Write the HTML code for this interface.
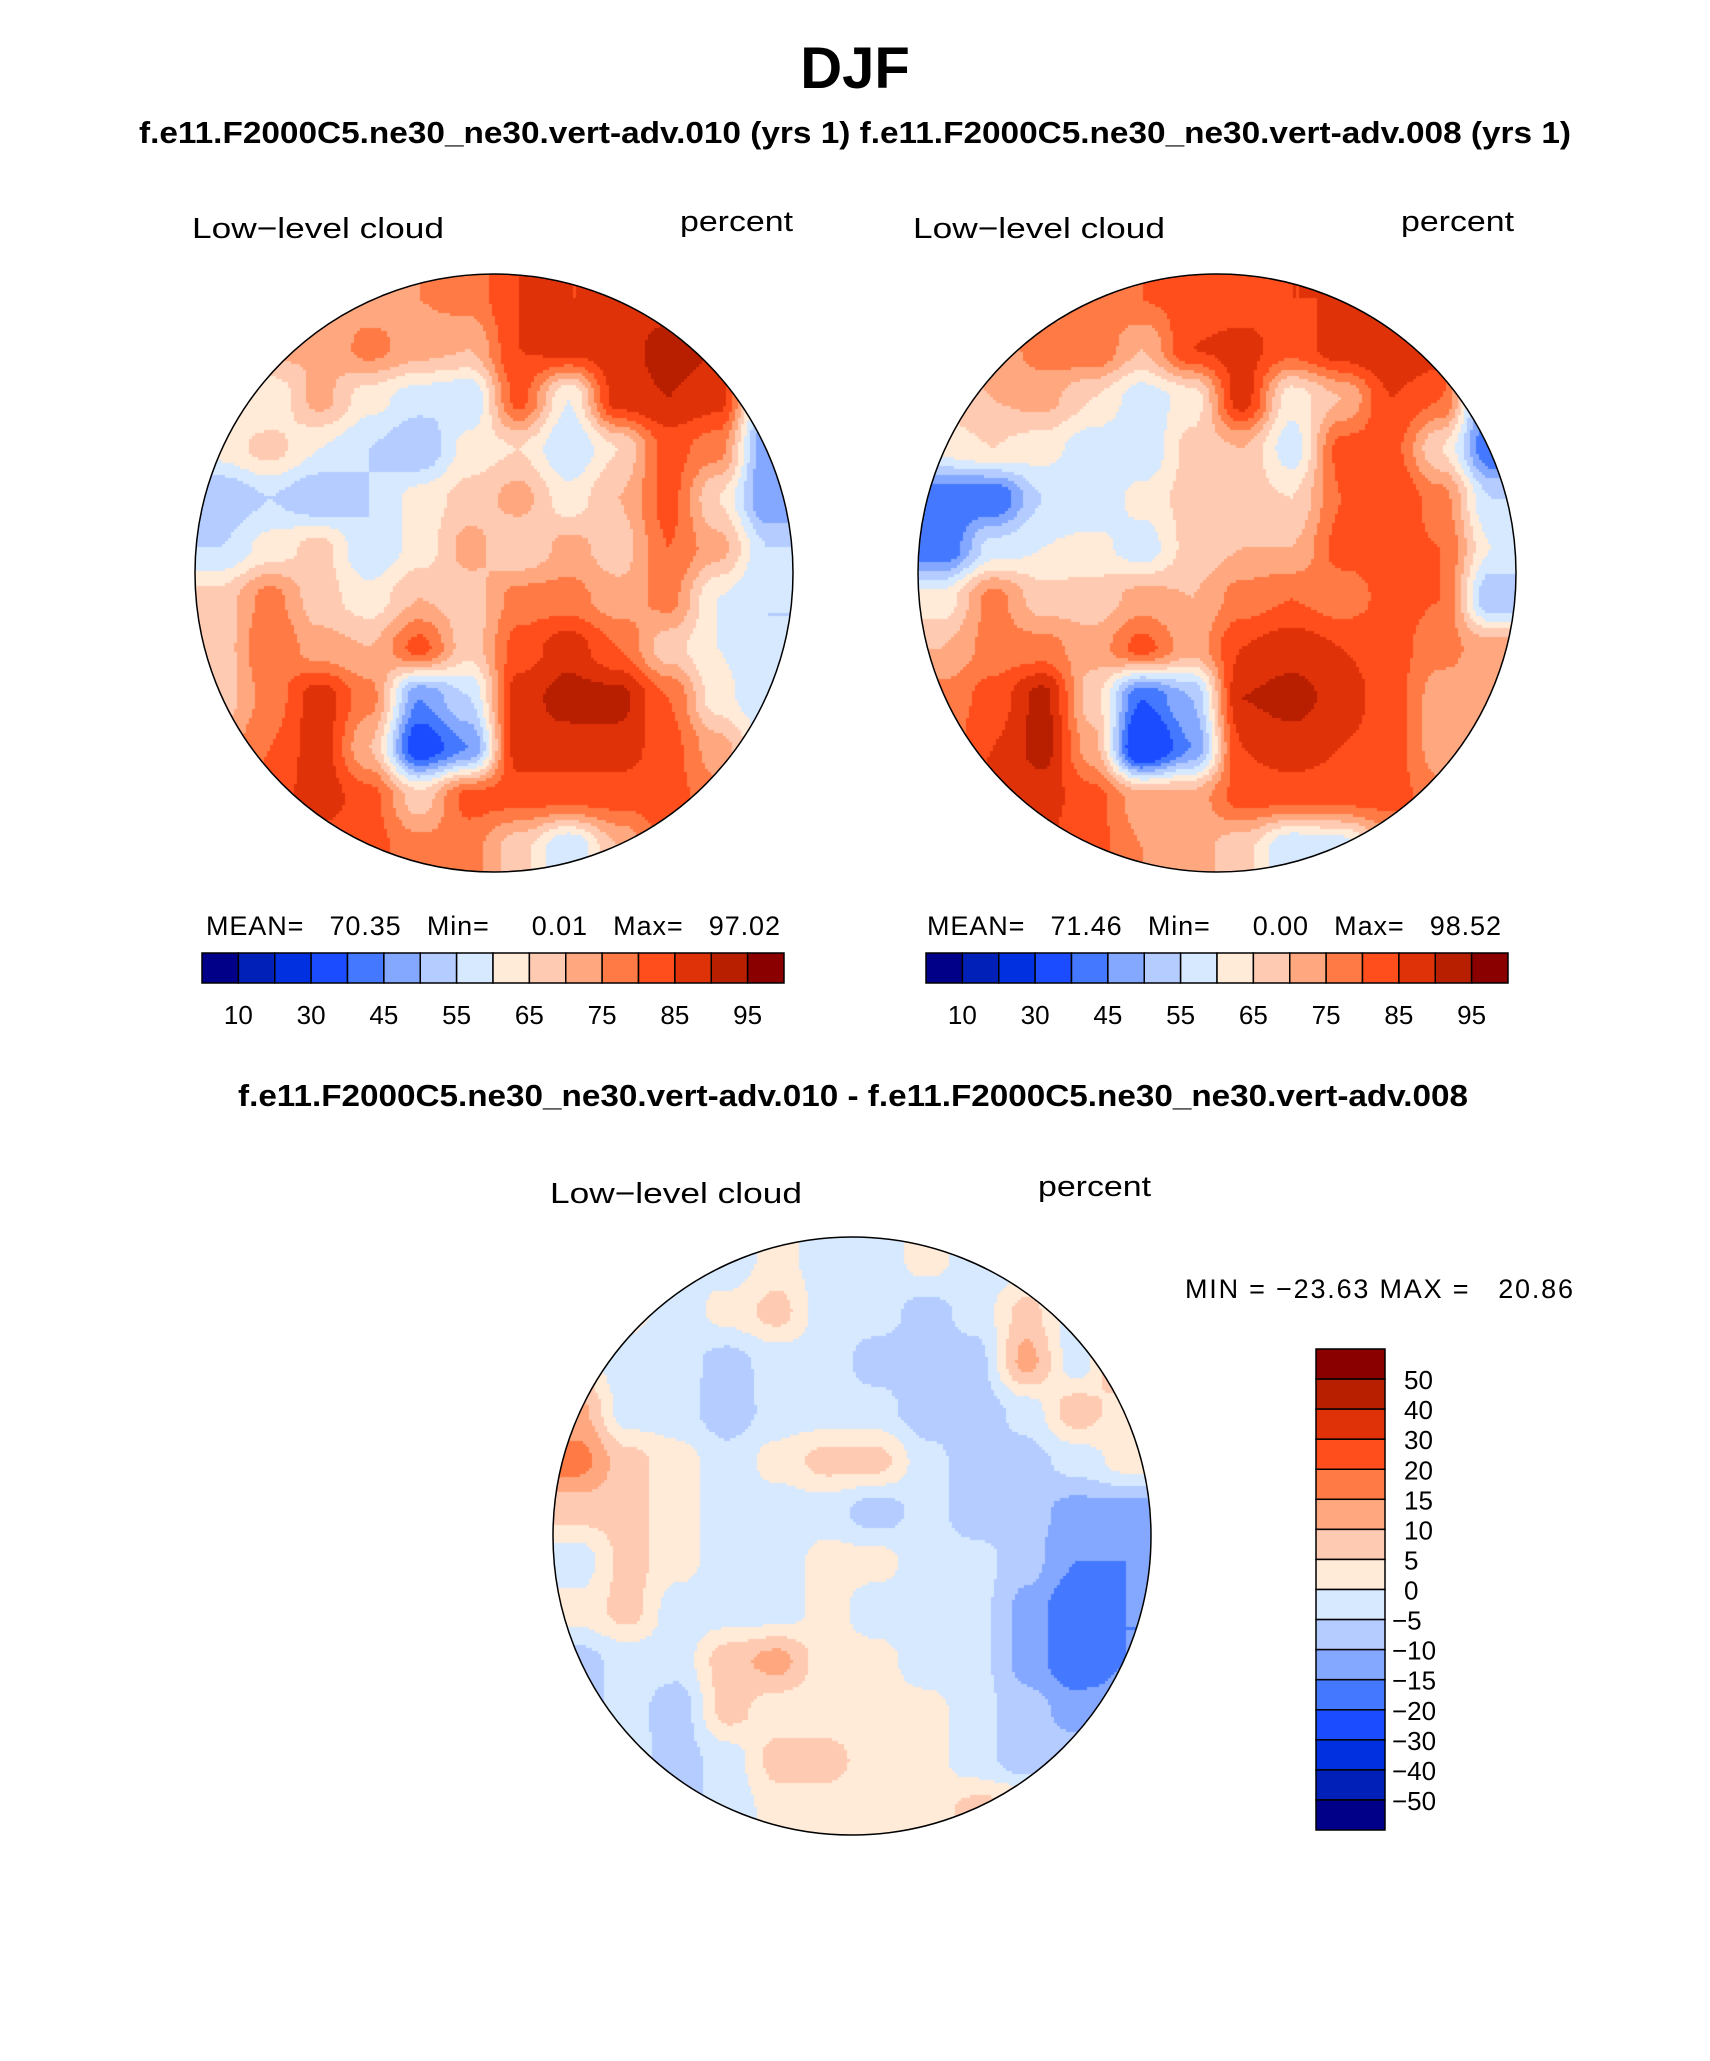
<!DOCTYPE html>
<html><head><meta charset="utf-8">
<style>
html,body{margin:0;padding:0;background:#fff;}
#wrap{position:relative;width:1710px;height:2061px;}
canvas,svg{position:absolute;left:0;top:0;}
</style></head>
<body>
<div id="wrap">
<canvas id="cv" width="1710" height="2061"></canvas>
<svg id="sv" width="1710" height="2061" xmlns="http://www.w3.org/2000/svg" font-family="Liberation Sans, sans-serif">
<text x="855" y="88" font-size="58" font-weight="bold" text-anchor="middle">DJF</text>
<text x="139" y="143" font-size="31" font-weight="bold" textLength="1432" lengthAdjust="spacingAndGlyphs">f.e11.F2000C5.ne30_ne30.vert-adv.010 (yrs 1) f.e11.F2000C5.ne30_ne30.vert-adv.008 (yrs 1)</text>
<text x="192" y="238" font-size="29" textLength="252" lengthAdjust="spacingAndGlyphs">Low−level cloud</text>
<text x="680" y="231" font-size="29" textLength="113" lengthAdjust="spacingAndGlyphs">percent</text>
<text x="913" y="238" font-size="29" textLength="252" lengthAdjust="spacingAndGlyphs">Low−level cloud</text>
<text x="1401" y="231" font-size="29" textLength="113" lengthAdjust="spacingAndGlyphs">percent</text>
<text x="206" y="935" font-size="27" textLength="574" lengthAdjust="spacing" xml:space="preserve">MEAN=   70.35   Min=     0.01   Max=   97.02</text>
<text x="927" y="935" font-size="27" textLength="574" lengthAdjust="spacing" xml:space="preserve">MEAN=   71.46   Min=     0.00   Max=   98.52</text>
<text x="238" y="1106" font-size="31" font-weight="bold" textLength="1230" lengthAdjust="spacingAndGlyphs">f.e11.F2000C5.ne30_ne30.vert-adv.010 - f.e11.F2000C5.ne30_ne30.vert-adv.008</text>
<text x="550" y="1203" font-size="29" textLength="252" lengthAdjust="spacingAndGlyphs">Low−level cloud</text>
<text x="1038" y="1196" font-size="29" textLength="113" lengthAdjust="spacingAndGlyphs">percent</text>
<text x="1185" y="1298" font-size="27" textLength="388" lengthAdjust="spacing" xml:space="preserve">MIN = −23.63 MAX =   20.86</text>
<g id="bars"></g>
</svg>
</div>
<script>
// ---- data ----
const colors = ["#000088","#0020B8","#0030E0","#1C4CFF","#4479FF","#84A8FF","#B4CCFF","#D6E9FF","#FFEBD8","#FFCAB2","#FFA880","#FF7A44","#FF4E1C","#E03208","#B81E00","#8A0000"];
const levels = [10,20,30,40,45,50,55,60,65,70,75,80,85,90,95];
const tickLabels = ["10","30","45","55","65","75","85","95"];
const diffLevels = [-50,-40,-30,-20,-15,-10,-5,0,5,10,15,20,30,40,50];
const diffTickLabels = ["50","40","30","20","15","10","5","0","−5","−10","−15","−20","−30","−40","−50"];
const map1 = [
[72,72,72,72,75,77,85,85,85,88,80,70],
[72,72,70,77,72,70,85,87,88,92,90,60],
[65,60,72,62,57,55,82,60,88,90,87,50],
[62,67,60,55,50,62,65,55,65,82,77,45],
[50,55,50,55,62,67,72,62,70,82,65,45],
[55,62,67,55,62,72,65,72,67,80,72,55],
[67,77,67,62,70,67,77,77,72,77,60,55],
[67,80,72,70,82,67,82,88,80,67,60,55],
[67,77,88,77,45,55,88,92,92,80,62,55],
[72,80,88,70,35,45,88,88,88,82,72,60],
[72,82,88,82,67,82,82,82,82,82,77,72],
[72,80,82,82,77,77,67,55,70,82,77,72]];
const map2 = [
[72,72,72,77,80,82,82,85,85,85,80,70],
[72,72,77,80,70,85,87,82,88,90,88,45],
[67,70,72,65,57,62,88,62,70,85,80,40],
[62,65,62,57,55,67,70,57,82,82,65,40],
[40,40,55,55,62,67,67,65,80,85,77,55],
[40,57,60,62,57,67,70,70,82,82,80,60],
[62,77,67,67,72,70,77,80,77,82,80,50],
[70,77,77,72,82,72,85,88,85,82,77,72],
[77,82,92,67,40,50,90,92,88,82,72,72],
[77,85,92,72,30,45,85,88,85,82,72,70],
[80,87,87,82,72,72,82,82,82,82,77,72],
[80,85,85,82,75,72,67,55,57,72,77,72]];
const diffMap = [
[2,2,2,-3,2,-3,-3,2,-3,-3,2,2],
[2,2,-3,2,7,-3,-3,-7,-3,7,-3,7],
[2,-3,-3,-7,-3,-3,-7,-7,-7,12,-3,12],
[12,-3,-3,-8,-3,-3,-3,-8,-8,-3,8,2],
[17,7,2,-3,2,7,7,-3,-8,-7,-3,2],
[7,7,2,-3,-3,-3,-8,-3,-8,-8,-12,-12],
[-3,7,2,-3,-3,2,2,-3,-3,-8,-15,-15],
[2,7,-3,-3,-3,2,-3,-3,-3,-12,-20,-15],
[-7,-3,-3,8,12,2,2,-3,-3,-12,-20,-15],
[-7,-3,-8,7,2,2,2,2,-3,-8,-12,-12],
[-3,-3,-7,-3,7,7,2,2,-3,-8,-7,-7],
[-3,-8,-7,-3,2,2,2,2,7,7,-3,-3]];

const NS="http://www.w3.org/2000/svg";
const cv=document.getElementById('cv'), ctx=cv.getContext('2d');
const sv=document.getElementById('sv');
function classify(v,lv){let i=0;while(i<lv.length&&v>=lv[i])i++;return i;}
function sample(g,fx,fy){ // fractional grid coords (cell centers at integers)
  const n=g.length;
  fx=Math.max(0,Math.min(n-1,fx));fy=Math.max(0,Math.min(n-1,fy));
  const x0=Math.floor(fx),y0=Math.floor(fy),x1=Math.min(n-1,x0+1),y1=Math.min(n-1,y0+1);
  const tx=fx-x0,ty=fy-y0;
  const sx=tx*tx*(3-2*tx), sy=ty*ty*(3-2*ty);
  const a=g[y0][x0]*(1-sx)+g[y0][x1]*sx, b=g[y1][x0]*(1-sx)+g[y1][x1]*sx;
  return a*(1-sy)+b*sy;
}
function drawMap(g,lv,cx,cy,r,name){
  const n=g.length, step=3;
  ctx.save();ctx.beginPath();ctx.arc(cx,cy,r,0,Math.PI*2);ctx.clip();
  for(let y=cy-r;y<cy+r;y+=step){for(let x=cx-r;x<cx+r;x+=step){
    const fx=(x+step/2-(cx-r))/(2*r)*n-0.5, fy=(y+step/2-(cy-r))/(2*r)*n-0.5;
    ctx.fillStyle=colors[classify(sample(g,fx,fy),lv)];
    ctx.fillRect(x,y,step+0.5,step+0.5);
  }}
  ctx.restore();
  const c=document.createElementNS(NS,'circle');
  c.setAttribute('cx',cx);c.setAttribute('cy',cy);c.setAttribute('r',r);
  c.setAttribute('fill','none');c.setAttribute('stroke','#000');c.setAttribute('stroke-width','1.5');
  
  
  sv.appendChild(c);
}
drawMap(map1,levels,494,573,299,'map1');
drawMap(map2,levels,1217,573,299,'map2');
drawMap(diffMap,diffLevels,852,1536,299,'diff-map');

const bars=document.getElementById('bars');
function hbar(x0,y0,w,h,name){
  const bw=w/colors.length;
  colors.forEach((col,i)=>{
    const r=document.createElementNS(NS,'rect');
    r.setAttribute('x',x0+i*bw);r.setAttribute('y',y0);r.setAttribute('width',bw);r.setAttribute('height',h);
    r.setAttribute('fill',col);r.setAttribute('stroke','#000');r.setAttribute('stroke-width','1.5');
    
    
    bars.appendChild(r);
  });
  tickLabels.forEach((t,k)=>{
    const i=1+2*k;
    const tx=document.createElementNS(NS,'text');
    tx.setAttribute('x',x0+i*bw);tx.setAttribute('y',1024);tx.setAttribute('font-size','26');
    tx.setAttribute('text-anchor','middle');tx.textContent=t;
    
    
    bars.appendChild(tx);
  });
}
hbar(202,953,582,30,'map1-colorbar');
hbar(926,953,582,30,'map2-colorbar');
// vertical diff bar
(function(){
  const x0=1316,y0=1349,w=69,h=481,bh=h/colors.length;
  for(let i=0;i<colors.length;i++){
    const r=document.createElementNS(NS,'rect');
    r.setAttribute('x',x0);r.setAttribute('y',y0+i*bh);r.setAttribute('width',w);r.setAttribute('height',bh);
    r.setAttribute('fill',colors[colors.length-1-i]);r.setAttribute('stroke','#000');r.setAttribute('stroke-width','1.5');
    
    
    bars.appendChild(r);
  }
  diffTickLabels.forEach((t,k)=>{
    const tx=document.createElementNS(NS,'text');
    const neg=t.indexOf('−')===0;
    tx.setAttribute('x',neg?1392:1404);tx.setAttribute('y',y0+(k+1)*bh+10);tx.setAttribute('font-size','26');
    tx.textContent=t;
    
    
    bars.appendChild(tx);
  });
})();
</script>
</body></html>
